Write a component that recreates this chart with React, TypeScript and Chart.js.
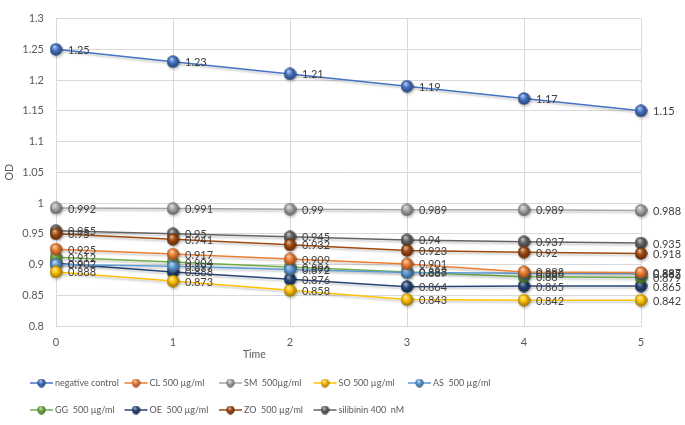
import React, { useEffect, useRef } from "react";
import { Chart, registerables } from "chart.js";
Chart.register(...registerables);

const times = [0, 1, 2, 3, 4, 5];
const seriesNames = [
  "negative control",
  "CL 500 µg/ml",
  "SM  500µg/ml",
  "SO 500 µg/ml",
  "AS  500 µg/ml",
  "GG  500 µg/ml",
  "OE  500 µg/ml",
  "ZO  500 µg/ml",
  "silibinin 400  nM",
];
const negativeControl = [1.25, 1.23, 1.21, 1.19, 1.17, 1.15];
const clValues = [0.925, 0.917, 0.909, 0.901, 0.888, 0.887];
const smValues = [0.992, 0.991, 0.99, 0.989, 0.989, 0.988];
const soValues = [0.888, 0.873, 0.858, 0.843, 0.842, 0.842];
const asValues = [0.9, 0.897, 0.892, 0.887, 0.886, 0.885];
const ggValues = [0.912, 0.904, 0.896, 0.888, 0.88, 0.879];
const oeValues = [0.902, 0.888, 0.876, 0.864, 0.865, 0.865];
const zoValues = [0.95, 0.941, 0.932, 0.923, 0.92, 0.918];
const silibininValues = [0.955, 0.95, 0.945, 0.94, 0.937, 0.935];
const seriesValues = [
  negativeControl, clValues, smValues, soValues, asValues,
  ggValues, oeValues, zoValues, silibininValues,
];
const seriesColors = [
  "#4472C4", "#ED7D31", "#A5A5A5", "#FFC000", "#5B9BD5",
  "#70AD47", "#264478", "#9E480E", "#636363",
];
const yMin = 0.8;
const yMax = 1.3;
const yStep = 0.05;
const xTitle = "Time";
const yTitle = "OD";

function shade(hex: string, f: number): string {
  const n = parseInt(hex.slice(1), 16);
  let r = (n >> 16) & 255, g = (n >> 8) & 255, b = n & 255;
  if (f >= 0) {
    r = r + (255 - r) * f; g = g + (255 - g) * f; b = b + (255 - b) * f;
  } else {
    r = r * (1 + f); g = g * (1 + f); b = b * (1 + f);
  }
  return `rgb(${Math.round(r)},${Math.round(g)},${Math.round(b)})`;
}

function sphere(color: string, size: number): HTMLCanvasElement {
  const c = document.createElement("canvas");
  c.width = size; c.height = size;
  const ctx = c.getContext("2d")!;
  const r = size / 2;
  const grad = ctx.createRadialGradient(r - r * 0.25, r - r * 0.45, r * 0.05, r, r, r);
  grad.addColorStop(0, shade(color, 0.65));
  grad.addColorStop(0.45, color);
  grad.addColorStop(1, shade(color, -0.45));
  ctx.fillStyle = grad;
  ctx.beginPath();
  ctx.arc(r, r, r - 0.3, 0, Math.PI * 2);
  ctx.fill();
  return c;
}

export default function App() {
  const ref = useRef<HTMLCanvasElement>(null);
  useEffect(() => {
    Chart.defaults.font.family = "Lato";
    const pointImgs = seriesColors.map((c) => sphere(c, 13));
    const legendImgs = seriesColors.map((c) => sphere(c, 9));

    const shadowPlugin = {
      id: "shadow",
      beforeDatasetDraw(chart: any) {
        const ctx = chart.ctx;
        ctx.save();
        ctx.shadowColor = "rgba(0,0,0,0.22)";
        ctx.shadowBlur = 2;
        ctx.shadowOffsetX = 1;
        ctx.shadowOffsetY = 2;
      },
      afterDatasetDraw(chart: any) {
        chart.ctx.restore();
      },
    };

    const labelPlugin = {
      id: "dataLabels",
      afterDatasetsDraw(chart: any) {
        const ctx = chart.ctx;
        ctx.save();
        ctx.font = "11px Lato";
        ctx.fillStyle = "#404040";
        ctx.textAlign = "left";
        ctx.textBaseline = "middle";
        chart.data.datasets.forEach((ds: any, i: number) => {
          const meta = chart.getDatasetMeta(i);
          meta.data.forEach((pt: any, j: number) => {
            ctx.fillText(String(ds.data[j].y), pt.x + 12, pt.y + 1);
          });
        });
        ctx.restore();
      },
    };

    const titleLegendPlugin = {
      id: "titleLegend",
      afterDraw(chart: any) {
        const ctx = chart.ctx;
        const area = chart.chartArea;
        ctx.save();
        ctx.font = "10.5px Lato";
        ctx.fillStyle = "#595959";
        ctx.textAlign = "center";
        ctx.textBaseline = "middle";
        ctx.fillText(xTitle, area.left + (area.right - area.left) * 0.339, area.bottom + 29);

        ctx.font = "9px Lato";
        ctx.textAlign = "left";
        const colW = 94.5;
        const startX = 30;
        const rowY0 = area.bottom + 57;
        seriesNames.forEach((name, i) => {
          const col = i % 5;
          const row = Math.floor(i / 5);
          const x0 = startX + col * colW;
          const y = rowY0 + row * 27;
          ctx.strokeStyle = seriesColors[i];
          ctx.lineWidth = 1.5;
          ctx.beginPath();
          ctx.moveTo(x0, y);
          ctx.lineTo(x0 + 23, y);
          ctx.stroke();
          ctx.drawImage(legendImgs[i], x0 + 11.5 - 4.5, y - 4.5);
          ctx.fillStyle = "#595959";
          ctx.fillText(name, x0 + 25, y + 0.5);
        });
        ctx.restore();
      },
    };

    const chart = new Chart(ref.current!, {
      type: "line",
      data: {
        datasets: seriesNames.map((name, i) => ({
          label: name,
          data: times.map((t, j) => ({ x: t, y: seriesValues[i][j] })),
          borderColor: seriesColors[i],
          backgroundColor: seriesColors[i],
          borderWidth: 1.5,
          pointStyle: pointImgs[i] as any,
          pointRadius: 6.5,
          fill: false,
          tension: 0,
          clip: false as any,
        })),
      },
      options: {
        animation: false,
        responsive: false,
        events: [],
        layout: { padding: { left: 0, right: 44, top: 8, bottom: 59 } },
        plugins: { legend: { display: false }, tooltip: { enabled: false } },
        scales: {
          x: {
            type: "linear",
            min: 0,
            max: 5,
            afterFit(scale: any) { scale.height = 40; },
            ticks: { stepSize: 1, padding: 10, color: "#595959", font: { size: 11 } },
            grid: { color: "#d9d9d9", drawTicks: false },
            border: { color: "#d9d9d9" },
          },
          y: {
            type: "linear",
            min: yMin,
            max: yMax,
            afterFit(scale: any) { scale.width = 56; },
            ticks: {
              stepSize: yStep,
              padding: 12,
              color: "#595959",
              font: { size: 11 },
              callback: (v: any) => String(Math.round(Number(v) * 100) / 100),
            },
            grid: { color: "#d9d9d9", drawTicks: false },
            border: { display: false },
            title: { display: true, text: yTitle, color: "#595959", font: { size: 10.5 }, padding: { top: 3, bottom: 0 } },
          },
        },
      },
      plugins: [shadowPlugin, labelPlugin, titleLegendPlugin],
    } as any);
    return () => chart.destroy();
  }, []);
  return (
    <div style={{ position: "fixed", left: 0, top: 0, width: 685, height: 425, background: "#fff" }}>
      <canvas ref={ref} width={685} height={425} style={{ width: 685, height: 425 }} />
    </div>
  );
}
